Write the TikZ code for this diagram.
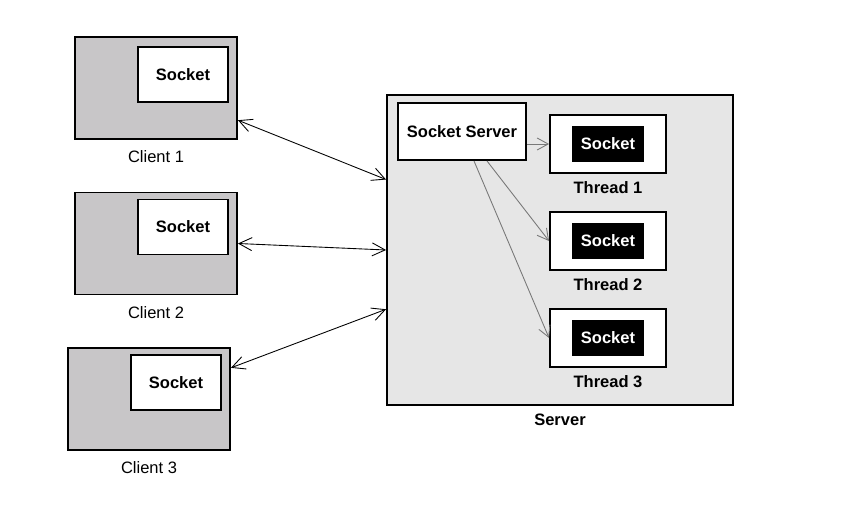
\documentclass[tikz,border=0pt]{standalone}
\usepackage{fontspec}
\setmainfont{Liberation Sans}
\usepackage{xcolor}
\usetikzlibrary{arrows.meta,calc}

\definecolor{clientgray}{RGB}{200,198,200}
\definecolor{servergray}{RGB}{230,230,230}
\definecolor{linkgray}{RGB}{120,120,120}

\begin{document}
\begin{tikzpicture}[x=0.02cm, y=-0.02cm, font=\fontsize{9.4}{11}\selectfont,
    box/.style={draw, line width=1.1pt, inner sep=0pt},
    clientbox/.style={box, fill=clientgray, minimum width=3.24cm, minimum height=2.04cm},
    sockbox/.style={box, fill=white, font=\fontsize{9.4}{11}\selectfont\bfseries},
    threadbox/.style={box, fill=white, minimum width=2.32cm, minimum height=1.16cm},
    blacksock/.style={fill=black, text=white, font=\fontsize{9.4}{11}\selectfont\bfseries,
        minimum width=1.44cm, minimum height=0.72cm, inner sep=0pt},
    link/.style={{Straight Barb[length=2.6mm,width=2.6mm]}-{Straight Barb[length=2.6mm,width=2.6mm]}, line width=0.5pt},
    spawn/.style={-{Straight Barb[length=2.2mm,width=2.4mm]}, draw=linkgray, line width=0.5pt}]

    \useasboundingbox (0,0) rectangle (850,524);

    \foreach \i/\x/\y/\dy in {1/156/88/10, 2/156/243.5/7, 3/149/399/7} {
        % Client box
        \node[clientbox] (c\i) at (\x,\y) {};
        % Socket in its upper right corner
        \node[sockbox, anchor=north east, minimum width=1.8cm, minimum height=1.1cm]
            (cs\i) at ($(c\i.north east)+(-9,\dy)$) {Socket};
        % Name below the box
        \node (cl\i) at ($(c\i.south)+(0,17)$) {Client \i};
    }

    % Server
    \node[box, fill=servergray, minimum width=6.92cm, minimum height=6.2cm] (server) at (560,250) {};
    \node[font=\fontsize{9.4}{11}\selectfont\bfseries] (serverlbl) at (560,420) {Server};
    \node[sockbox, minimum width=2.56cm, minimum height=1.14cm] (ss) at (462,131.5) {Socket Server};

    \foreach \i/\y in {1/144, 2/241, 3/338} {
        % Thread box with a black socket
        \node[threadbox] (t\i) at (608,\y) {};
        \node[blacksock] (ts\i) at (t\i) {Socket};
        \node[font=\fontsize{9.4}{11}\selectfont\bfseries] (tl\i) at ($(t\i.center)+(0,44)$) {Thread \i};
    }

    % Points where the client links meet the boxes
    \coordinate (e1) at ($(c1.north east)!0.81!(c1.south east)$);
    \coordinate (e2) at (c2.east);
    \coordinate (e3) at ($(c3.north east)!0.2!(c3.south east)$);
    \coordinate (w1) at ($(server.north west)!0.274!(server.south west)$);
    \coordinate (w2) at (server.west);
    \coordinate (w3) at ($(server.north west)!0.69!(server.south west)$);

    \foreach \i in {1,2,3} {
        \draw[link] (e\i) -- (w\i);
    }

    % Socket server hands off to the threads
    \draw[spawn] (t1.west -| ss.east) -- (t1.west);
    \draw[spawn] ($(ss.south)+(25,0)$) -- (t2.west);
    \draw[spawn] ($(ss.south)+(12,0)$) -- (t3.west);

\end{tikzpicture}
\end{document}
